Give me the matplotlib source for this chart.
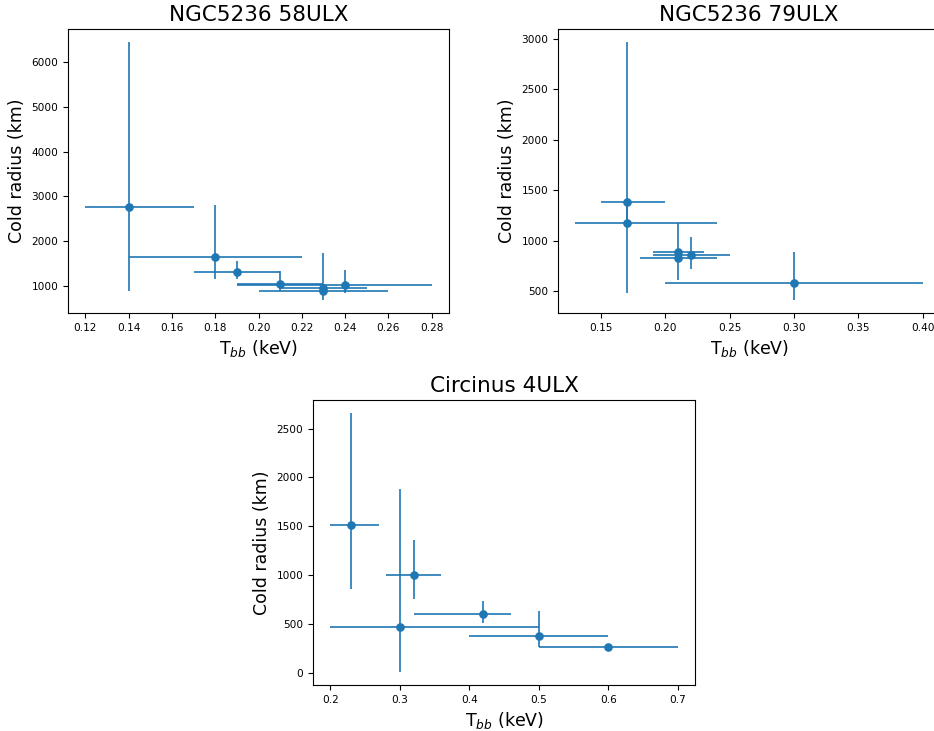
import numpy as np
import matplotlib
matplotlib.use('Agg')
import matplotlib.pyplot as plt

# NGC5236 58ULX
t58 = [0.14, 0.18, 0.19, 0.21, 0.23, 0.23, 0.24]
t58_lo = [0.12, 0.14, 0.17, 0.19, 0.21, 0.20, 0.19]
t58_hi = [0.17, 0.22, 0.21, 0.23, 0.25, 0.26, 0.28]
r58 = [2750, 1650, 1300, 1050, 960, 890, 1020]
r58_lo = [880, 1160, 1160, 890, 680, 860, 830]
r58_hi = [6450, 2800, 1560, 1320, 1740, 1000, 1350]

# NGC5236 79ULX
t79 = [0.17, 0.17, 0.21, 0.21, 0.22, 0.30]
t79_lo = [0.15, 0.13, 0.19, 0.18, 0.19, 0.20]
t79_hi = [0.20, 0.24, 0.23, 0.24, 0.25, 0.40]
r79 = [1380, 1170, 890, 830, 860, 580]
r79_lo = [1170, 480, 830, 610, 720, 410]
r79_hi = [2970, 1380, 1170, 890, 1040, 890]

# Circinus 4ULX
tcir = [0.23, 0.32, 0.30, 0.42, 0.50, 0.60]
tcir_lo = [0.20, 0.28, 0.20, 0.32, 0.40, 0.50]
tcir_hi = [0.27, 0.36, 0.50, 0.46, 0.60, 0.70]
rcir = [1510, 1000, 470, 600, 380, 270]
rcir_lo = [860, 760, 10, 510, 270, 250]
rcir_hi = [2660, 1365, 1880, 740, 630, 290]

W, H = 934, 731
fig = plt.figure(figsize=(W / 100, H / 100), dpi=100)


def box(l, t, r, b):
    return [l / W, 1 - b / H, (r - l) / W, (b - t) / H]


def panel(rect, x, xlo, xhi, y, ylo, yhi, title):
    ax = fig.add_axes(rect)
    x = np.array(x); y = np.array(y)
    xerr = [x - np.array(xlo), np.array(xhi) - x]
    yerr = [y - np.array(ylo), np.array(yhi) - y]
    ax.errorbar(x, y, xerr=xerr, yerr=yerr, fmt='o', color='#1f77b4',
                ms=5.2, elinewidth=1.2)
    ax.set_title(title, fontsize=15.5)
    ax.set_xlabel('T$_{bb}$ (keV)', fontsize=12.5)
    ax.set_ylabel('Cold radius (km)', fontsize=12.5)
    ax.tick_params(labelsize=7.6)
    return ax


ax1 = panel(box(68, 29, 449, 313), t58, t58_lo, t58_hi, r58, r58_lo, r58_hi,
            'NGC5236 58ULX')
ax1.set_xticks(np.arange(0.12, 0.281, 0.02))

ax2 = panel(box(558, 29, 940, 313), t79, t79_lo, t79_hi, r79, r79_lo, r79_hi,
            'NGC5236 79ULX')

ax3 = panel(box(313, 400, 695, 685), tcir, tcir_lo, tcir_hi, rcir, rcir_lo, rcir_hi,
            'Circinus 4ULX')

fig.savefig('out.png', dpi=100)
